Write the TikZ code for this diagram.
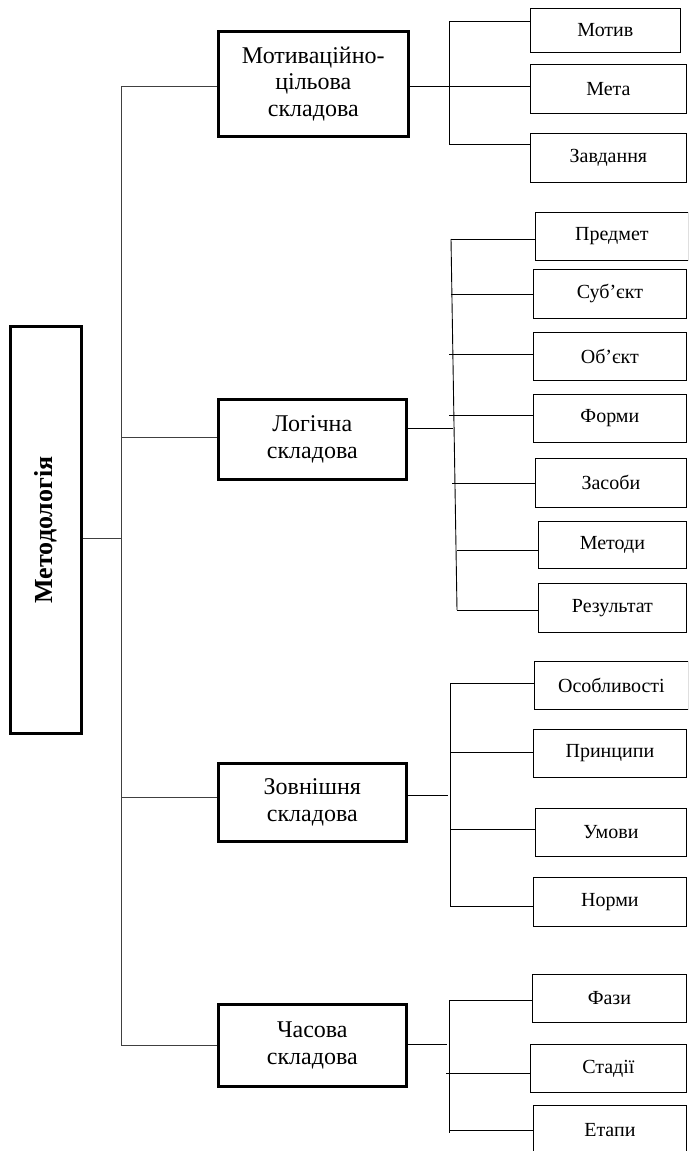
\documentclass[tikz,border=0pt]{standalone}
\usepackage{fontspec}
\setmainfont{Liberation Serif}
\usepackage{graphicx}
\usetikzlibrary{positioning}
\tikzset{
    common/.style={anchor=north west, draw, rectangle, inner sep=0pt, align=center},
    root/.style={common, line width=2.6pt, minimum width=71, minimum height=407, font=\fontsize{26}{29}\selectfont},
    part/.style={common, line width=2.6pt, minimum width=188, font=\fontsize{24}{26.5}\selectfont},
    item/.style={common, line width=0.8pt, minimum width=153, minimum height=48, font=\fontsize{20}{23}\selectfont},
    trunk/.style={line width=0.9pt, black!75},
    link/.style={line width=0.9pt}
}

\begin{document}
\begin{tikzpicture}[x=1pt, y=-1pt]
      \clip (0,0) rectangle (688,1151);

      \path
          (9,325) node[root] (method) {\rotatebox{90}{\textbf{Методологія}}}
          (217,30) node[part, minimum width=190, minimum height=105] (part-motive) {Мотиваційно-\\цільова\\складова}
          (217,398) node[part, minimum height=80] (part-logic) {Логічна\\складова}
          (217,762) node[part, minimum height=78] (part-outer) {Зовнішня\\складова}
          (217,1003) node[part, minimum height=82] (part-time) {Часова\\складова};

      \path
          (530,8) node[item, minimum width=150, minimum height=44] (item-motyv) {Мотив}
          (530,64) node[item, minimum width=156, minimum height=49] (item-meta) {Мета}
          (530,133) node[item, minimum width=156, minimum height=49] (item-zavd) {Завдання};

      \path
          (535,212) node[item] (item-predmet) {Предмет}
          (533,269) node[item, minimum height=49] (item-subject) {Суб’єкт}
          (533,332) node[item] (item-object) {Об’єкт}
          (533,394) node[item] (item-formy) {Форми}
          (535,458) node[item, minimum width=151, minimum height=49] (item-zasoby) {Засоби}
          (538,521) node[item, minimum width=148, minimum height=47] (item-metody) {Методи}
          (538,583) node[item, minimum width=148, minimum height=49] (item-rezult) {Результат};

      \path
          (534,661) node[item, minimum width=154] (item-osobl) {Особливості}
          (533,729) node[item] (item-pryntsypy) {Принципи}
          (535,808) node[item, minimum width=151] (item-umovy) {Умови}
          (533,877) node[item, minimum height=49] (item-normy) {Норми};

      \path
          (532,974) node[item, minimum width=154] (item-fazy) {Фази}
          (530,1044) node[item, minimum width=156] (item-stadii) {Стадії}
          (533,1105) node[item, minimum height=50] (item-etapy) {Етапи};

      \path
          (121,86) coordinate (trunk-motive)
          (121,437) coordinate (trunk-logic)
          (121,538) coordinate (trunk-method)
          (121,797) coordinate (trunk-outer)
          (121,1045) coordinate (trunk-time);

      \draw[trunk] (trunk-motive) -- (trunk-time);
      \draw[trunk] (trunk-method -| method.east) -- (trunk-method);
      \draw[trunk] (trunk-motive) -- (trunk-motive -| part-motive.west)
          (trunk-logic) -- (trunk-logic -| part-logic.west)
          (trunk-outer) -- (trunk-outer -| part-outer.west)
          (trunk-time) -- (trunk-time -| part-time.west);

      \path
          (449,21) coordinate (motive-a)
          (449,86) coordinate (motive-b)
          (449,144) coordinate (motive-c);

      \draw[link] (motive-a) -- (motive-c);
      \draw[link] (motive-b -| part-motive.east) -- (motive-b -| item-meta.west);
      \draw[link] (motive-a) -- (motive-a -| item-motyv.west)
          (motive-c) -- (motive-c -| item-zavd.west);

      \path
          (453,428) coordinate (logic-in)
          (451,239) coordinate (logic-a)
          (451,294) coordinate (logic-b)
          (449,354) coordinate (logic-c)
          (449,415) coordinate (logic-d)
          (452,483) coordinate (logic-e)
          (457,550) coordinate (logic-f)
          (457,610) coordinate (logic-g);

      \draw[link] (logic-a) -- (logic-g);
      \draw[link] (logic-in -| part-logic.east) -- (logic-in);
      \draw[link] (logic-a) -- (logic-a -| item-predmet.west)
          (logic-b) -- (logic-b -| item-subject.west)
          (logic-c) -- (logic-c -| item-object.west)
          (logic-d) -- (logic-d -| item-formy.west)
          (logic-e) -- (logic-e -| item-zasoby.west)
          (logic-f) -- (logic-f -| item-metody.west)
          (logic-g) -- (logic-g -| item-rezult.west);

      \path
          (448,795) coordinate (outer-in)
          (450,683) coordinate (outer-a)
          (450,752) coordinate (outer-b)
          (450,829) coordinate (outer-c)
          (450,906) coordinate (outer-d);

      \draw[link] (outer-a) -- (outer-d);
      \draw[link] (outer-in -| part-outer.east) -- (outer-in);
      \draw[link] (outer-a) -- (outer-a -| item-osobl.west)
          (outer-b) -- (outer-b -| item-pryntsypy.west)
          (outer-c) -- (outer-c -| item-umovy.west)
          (outer-d) -- (outer-d -| item-normy.west);

      \path
          (447,1044) coordinate (time-in)
          (449,1000) coordinate (time-a)
          (446,1073) coordinate (time-b)
          (449,1130) coordinate (time-c)
          (449,1133) coordinate (time-end);

      \draw[link] (time-a) -- (time-end);
      \draw[link] (time-in -| part-time.east) -- (time-in);
      \draw[link] (time-a) -- (time-a -| item-fazy.west)
          (time-b) -- (time-b -| item-stadii.west)
          (time-c) -- (time-c -| item-etapy.west);
\end{tikzpicture}
\end{document}
